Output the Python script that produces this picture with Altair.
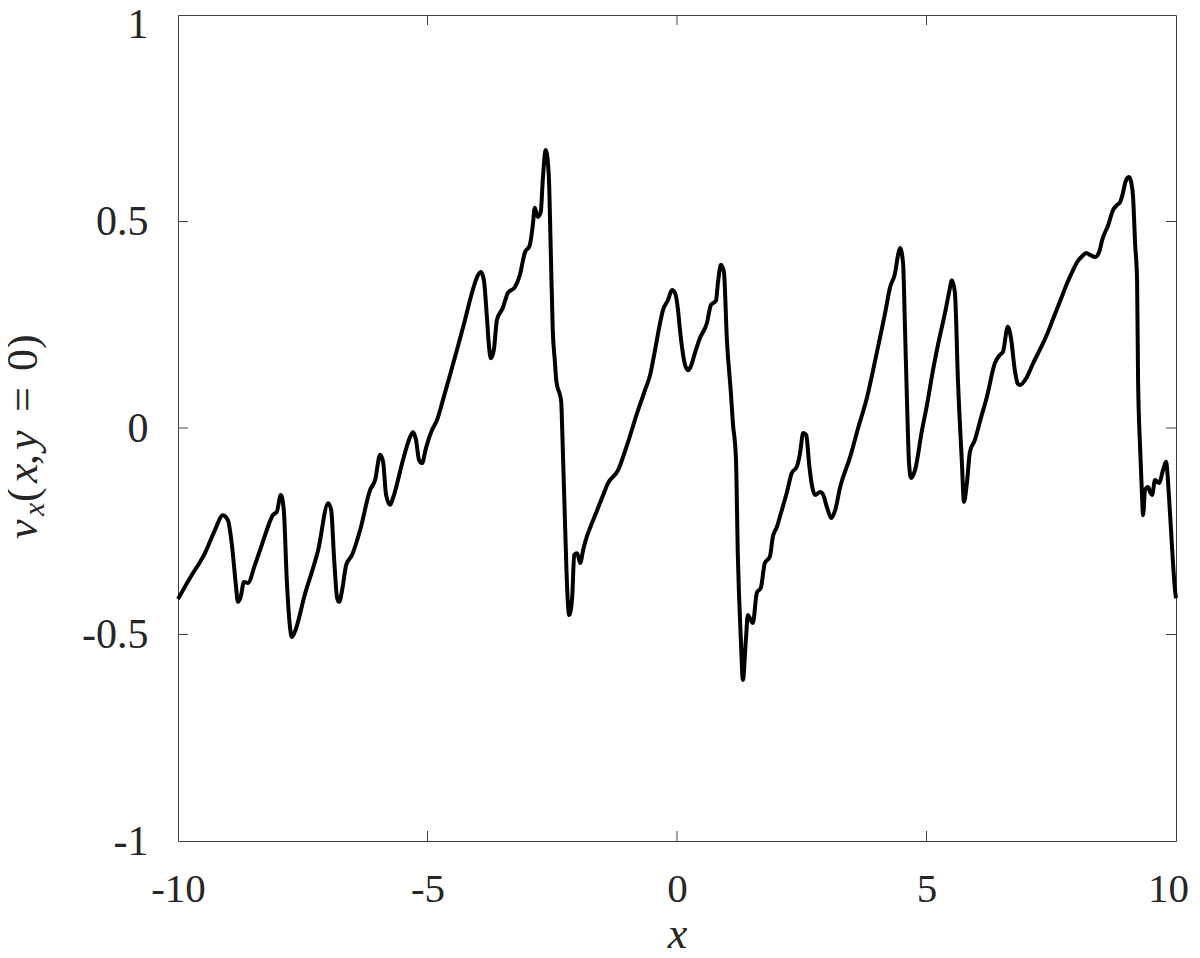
import altair as alt
import pandas as pd

# x positions and v_x values
x_vals = [-10.00, -9.76, -9.46, -9.26, -9.10, -9.00, -8.92, -8.84, -8.80, -8.74,
          -8.68, -8.60, -8.46, -8.32, -8.22, -8.10, -8.02, -7.94, -7.88, -7.82,
          -7.76, -7.72, -7.66, -7.46, -7.19, -6.99, -6.93, -6.87, -6.81, -6.77,
          -6.71, -6.63, -6.51, -6.35, -6.15, -6.05, -5.95, -5.89, -5.83, -5.75,
          -5.69, -5.49, -5.35, -5.29, -5.23, -5.17, -5.11, -5.03, -4.91, -4.81,
          -4.69, -4.55, -4.41, -4.25, -4.11, -3.99, -3.93, -3.87, -3.81, -3.77,
          -3.73, -3.67, -3.61, -3.49, -3.39, -3.25, -3.15, -3.05, -2.95, -2.89,
          -2.85, -2.79, -2.73, -2.69, -2.63, -2.57, -2.53, -2.49, -2.45, -2.42,
          -2.32, -2.30, -2.24, -2.20, -2.16, -2.10, -2.06, -2.00, -1.94, -1.88,
          -1.84, -1.72, -1.60, -1.48, -1.38, -1.18, -1.00, -0.80, -0.64, -0.54,
          -0.44, -0.34, -0.28, -0.18, -0.10, -0.04, 0.02, 0.06, 0.10, 0.16,
          0.22, 0.28, 0.36, 0.46, 0.60, 0.68, 0.78, 0.82, 0.88, 0.94,
          1.00, 1.08, 1.12, 1.18, 1.22, 1.28, 1.32, 1.38, 1.42, 1.46,
          1.52, 1.60, 1.68, 1.76, 1.86, 1.92, 2.00, 2.10, 2.20, 2.30,
          2.40, 2.46, 2.53, 2.59, 2.65, 2.71, 2.77, 2.87, 2.93, 3.01,
          3.09, 3.17, 3.27, 3.47, 3.63, 3.81, 3.93, 4.07, 4.17, 4.27,
          4.37, 4.43, 4.47, 4.53, 4.57, 4.61, 4.65, 4.69, 4.77, 4.91,
          5.01, 5.13, 5.25, 5.37, 5.45, 5.51, 5.57, 5.63, 5.71, 5.75,
          5.81, 5.87, 5.97, 6.09, 6.21, 6.37, 6.47, 6.53, 6.63, 6.69,
          6.77, 6.83, 6.87, 7.01, 7.13, 7.27, 7.41, 7.53, 7.68, 7.82,
          7.92, 8.02, 8.12, 8.20, 8.28, 8.38, 8.46, 8.52, 8.64, 8.74,
          8.82, 8.88, 8.94, 8.98, 9.02, 9.06, 9.10, 9.14, 9.18, 9.22,
          9.24, 9.28, 9.32, 9.34, 9.38, 9.44, 9.48, 9.52, 9.58, 9.66,
          9.74, 9.80, 9.86, 9.92, 9.98, 10.00]

vx_vals = [-0.414, -0.363, -0.303, -0.247, -0.211, -0.223, -0.283, -0.380, -0.421, -0.407,
           -0.373, -0.375, -0.332, -0.283, -0.247, -0.211, -0.203, -0.162, -0.199, -0.368,
           -0.477, -0.506, -0.494, -0.404, -0.295, -0.182, -0.199, -0.320, -0.412, -0.421,
           -0.392, -0.332, -0.307, -0.247, -0.150, -0.126, -0.065, -0.082, -0.162, -0.186,
           -0.169, -0.077, -0.022, -0.010, -0.029, -0.077, -0.085, -0.048, -0.005, 0.019,
           0.068, 0.128, 0.189, 0.261, 0.327, 0.370, 0.378, 0.358, 0.269, 0.201,
           0.169, 0.189, 0.261, 0.291, 0.327, 0.341, 0.370, 0.424, 0.443, 0.491,
           0.533, 0.511, 0.523, 0.600, 0.673, 0.613, 0.431, 0.237, 0.165, 0.116,
           0.063, -0.005, -0.247, -0.392, -0.453, -0.409, -0.307, -0.303, -0.327, -0.295,
           -0.276, -0.235, -0.199, -0.162, -0.133, -0.102, -0.041, 0.036, 0.092, 0.128,
           0.189, 0.254, 0.286, 0.310, 0.334, 0.327, 0.286, 0.237, 0.196, 0.153,
           0.140, 0.150, 0.182, 0.218, 0.254, 0.298, 0.308, 0.351, 0.395, 0.378,
           0.213, 0.085, 0.012, -0.070, -0.312, -0.513, -0.610, -0.513, -0.453, -0.460,
           -0.472, -0.399, -0.387, -0.327, -0.312, -0.264, -0.240, -0.199, -0.157, -0.109,
           -0.094, -0.065, -0.012, -0.017, -0.090, -0.143, -0.162, -0.155, -0.162, -0.194,
           -0.218, -0.199, -0.143, -0.070, 0.000, 0.075, 0.140, 0.220, 0.278, 0.341,
           0.375, 0.419, 0.436, 0.400, 0.237, 0.061, -0.085, -0.121, -0.102, -0.005,
           0.056, 0.140, 0.213, 0.278, 0.327, 0.358, 0.327, 0.116, -0.085, -0.179,
           -0.133, -0.058, -0.029, 0.024, 0.075, 0.157, 0.177, 0.184, 0.245, 0.220,
           0.140, 0.107, 0.104, 0.123, 0.155, 0.189, 0.225, 0.262, 0.308, 0.351,
           0.378, 0.402, 0.416, 0.424, 0.419, 0.414, 0.426, 0.455, 0.491, 0.528,
           0.540, 0.547, 0.571, 0.593, 0.605, 0.608, 0.596, 0.559, 0.448, 0.358,
           0.116, -0.046, -0.167, -0.211, -0.150, -0.143, -0.155, -0.162, -0.126, -0.133,
           -0.102, -0.082, -0.167, -0.288, -0.392, -0.412]

x_ticks = [-10, -5, 0, 5, 10]
y_ticks = [-1, -0.5, 0, 0.5, 1]
x_inner_ticks = [-5, 0, 5]
y_inner_ticks = [-0.5, 0, 0.5]

W, H = 998, 826
AX = "#404040"
FONT = "Liberation Serif, Times New Roman, serif"

df = pd.DataFrame({"x": x_vals, "vx": vx_vals})

xscale = alt.Scale(domain=[-10, 10], nice=False, zero=False)
yscale = alt.Scale(domain=[-1, 1], nice=False, zero=False)

line = alt.Chart(df).mark_line(color="black", strokeWidth=4, strokeJoin="round",
                               interpolate="monotone").encode(
    x=alt.X("x:Q", scale=xscale,
            axis=alt.Axis(values=x_ticks, ticks=False, domain=False, grid=False,
                          labelFlush=False,
                          labelFont=FONT, labelFontSize=41, labelColor="#262626",
                          labelPadding=28, labelExpr="toString(datum.value)",
                          labelOffset={"condition": {"test": "datum.value == 10", "value": -8},
                                       "value": 0},
                          title="x", titleFont=FONT, titleFontStyle="italic",
                          titleFontWeight="normal", titleFontSize=44,
                          titleColor="#262626", titlePadding=3)),
    y=alt.Y("vx:Q", scale=yscale,
            axis=alt.Axis(values=y_ticks, ticks=False, domain=False, grid=False,
                          labelFlush=False,
                          labelFont=FONT, labelFontSize=42, labelColor="#262626",
                          labelPadding=30, labelExpr="toString(datum.value)",
                          labelOffset={"condition": {"test": "datum.value == 1", "value": 9},
                                       "value": 0},
                          title=None)),
)

tick_src = alt.Chart(pd.DataFrame({"v": y_inner_ticks}))
left_ticks = tick_src.mark_rule(color=AX, strokeWidth=1).encode(
    y=alt.Y("v:Q", scale=yscale), x=alt.value(0), x2=alt.value(10))
right_ticks = tick_src.mark_rule(color=AX, strokeWidth=1).encode(
    y=alt.Y("v:Q", scale=yscale), x=alt.value(W - 10), x2=alt.value(W))

xt_src = alt.Chart(pd.DataFrame({"u": x_inner_ticks}))
bottom_ticks = xt_src.mark_rule(color=AX, strokeWidth=1).encode(
    x=alt.X("u:Q", scale=xscale), y=alt.value(H), y2=alt.value(H - 10))
top_ticks = xt_src.mark_rule(color=AX, strokeWidth=1).encode(
    x=alt.X("u:Q", scale=xscale), y=alt.value(0), y2=alt.value(10))

# y-axis title v_x(x, y = 0) assembled from pieces (rotated)
one = pd.DataFrame({"a": [0]})
def piece(txt, ypos, xpos, size=44, italic=True):
    kw = dict(text=txt, angle=270, align="left", baseline="alphabetic",
              font=FONT, fontSize=size, color="#262626")
    if italic:
        kw["fontStyle"] = "italic"
    return alt.Chart(one).mark_text(**kw).encode(x=alt.value(xpos), y=alt.value(ypos))

title_layers = [
    piece("v", 524, -141),
    piece("x", 501, -134, size=30),
    piece("(", 487, -141, italic=False),
    piece("x", 468, -141),
    piece(",", 450, -141, italic=False),
    piece("y", 435, -141),
    piece("=", 397, -141, italic=False),
    piece("0)", 356, -141, italic=False),
]

chart = alt.layer(line, left_ticks, right_ticks, bottom_ticks, top_ticks, *title_layers).properties(
    width=W, height=H,
    autosize=alt.AutoSizeParams(type="none"),
    padding={"left": 170, "top": 7, "right": 16, "bottom": 116},
    background="white",
).configure_view(stroke=AX, strokeWidth=1)

chart.save("out.html", embed_options={"renderer": "svg", "actions": False})
